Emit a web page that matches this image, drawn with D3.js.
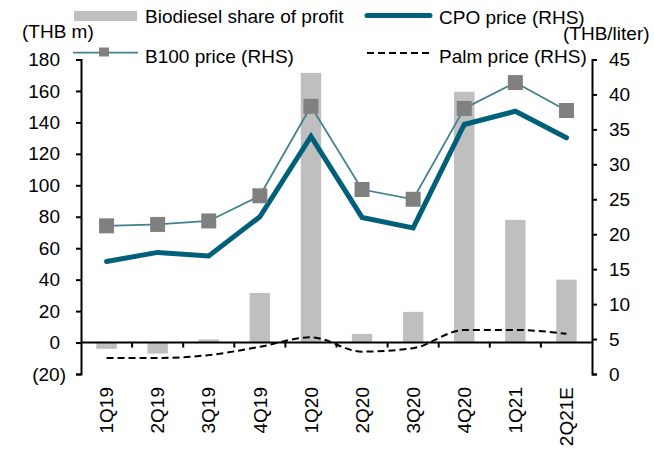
<!DOCTYPE html>
<html>
<head>
<meta charset="utf-8">
<script src="https://cdn.jsdelivr.net/npm/d3@7"></script>
<style>
  body { margin: 0; background: #fff; }
  svg { display: block; font-family: "Liberation Sans", Arial, sans-serif; }
  text { fill: #000; }
</style>
</head>
<body>
<div id="chart"></div>
<script>
// данные
const categories = ["1Q19", "2Q19", "3Q19", "4Q19", "1Q20", "2Q20", "3Q20", "4Q20", "1Q21", "2Q21E"];
const profitShare = [-4, -7, 2, 31.5, 171.5, 5.5, 19.5, 159.5, 78, 40];      // THB m, левая ось
const cpoPrice = [16.1, 17.4, 16.9, 22.5, 34.0, 22.4, 20.9, 35.7, 37.6, 33.8]; // THB/liter
const b100Price = [21.2, 21.4, 21.9, 25.5, 38.3, 26.4, 25.0, 38.0, 41.7, 37.7];
const palmPrice = [2.3, 2.3, 2.7, 3.9, 5.25, 3.2, 3.7, 6.3, 6.3, 5.75];
const leftTicks = d3.range(-20, 181, 20);
const rightTicks = d3.range(0, 46, 5);

const W = 654, H = 449;
const plot = { left: 81, right: 592, top: 59.5, bottom: 374 };

const svg = d3.select("#chart").append("svg")
  .attr("width", W)
  .attr("height", H);

// шкалы
const x = d3.scaleBand()
  .domain(categories)
  .range([plot.left, plot.right])
  .paddingInner(0.6)
  .paddingOuter(0.3);

const yL = d3.scaleLinear().domain([-20, 180]).range([plot.bottom, plot.top]);
const yR = d3.scaleLinear().domain([0, 45]).range([plot.bottom, plot.top]);

const cx = c => x(c) + x.bandwidth() / 2;
const step = x.step();

// столбцы
svg.append("g")
  .selectAll("rect")
  .data(categories)
  .join("rect")
  .attr("x", c => x(c))
  .attr("width", x.bandwidth())
  .attr("y", (c, i) => yL(Math.max(0, profitShare[i])))
  .attr("height", (c, i) => Math.abs(yL(profitShare[i]) - yL(0)))
  .attr("fill", "#bfbfbf");

// ось X (нулевая линия)
const y0 = yL(0);
svg.append("line")
  .attr("x1", plot.left).attr("x2", plot.right)
  .attr("y1", y0).attr("y2", y0)
  .attr("stroke", "#000").attr("stroke-width", 2);

svg.append("g")
  .selectAll("line")
  .data(categories.slice(1))
  .join("line")
  .attr("x1", c => x(c) - (step - x.bandwidth()) / 2)
  .attr("x2", c => x(c) - (step - x.bandwidth()) / 2)
  .attr("y1", y0).attr("y2", y0 + 5)
  .attr("stroke", "#000").attr("stroke-width", 2);

// подписи категорий (повёрнуты)
svg.append("g")
  .selectAll("text")
  .data(categories)
  .join("text")
  .attr("transform", c => `translate(${cx(c)},387) rotate(-90)`)
  .attr("text-anchor", "end")
  .attr("dy", "0.35em")
  .style("font-size", "19px")
  .text(c => c);

// левая ось
const leftAxis = d3.axisLeft(yL)
  .tickValues(leftTicks)
  .tickSize(5)
  .tickPadding(16)
  .tickFormat(d => d < 0 ? `(${-d})` : d);

const gL = svg.append("g")
  .attr("transform", `translate(${plot.left},0)`)
  .call(leftAxis);
gL.select(".domain").attr("stroke-width", 2);
gL.selectAll(".tick line").attr("stroke-width", 2);
gL.selectAll(".tick text")
  .style("font-size", "19px")
  .attr("dx", d => d < 0 ? 6 : 0);

// правая ось
const rightAxis = d3.axisRight(yR)
  .tickValues(rightTicks)
  .tickSize(5)
  .tickPadding(12);

const gR = svg.append("g")
  .attr("transform", `translate(${plot.right},0)`)
  .call(rightAxis);
gR.select(".domain").attr("stroke-width", 2);
gR.selectAll(".tick line").attr("stroke-width", 2);
gR.selectAll(".tick text").style("font-size", "19px");
gL.attr("font-family", null);
gR.attr("font-family", null);

// линии
const cpoColor = "#00607a", b100Color = "#41808f";

const lineR = d3.line()
  .x((d, i) => cx(categories[i]))
  .y(d => yR(d));

svg.append("path")
  .datum(cpoPrice)
  .attr("d", lineR)
  .attr("fill", "none")
  .attr("stroke", cpoColor)
  .attr("stroke-width", 5)
  .attr("stroke-linecap", "round");

svg.append("path")
  .datum(b100Price)
  .attr("d", lineR)
  .attr("fill", "none")
  .attr("stroke", b100Color)
  .attr("stroke-width", 1.75);

svg.append("g")
  .selectAll("rect")
  .data(b100Price)
  .join("rect")
  .attr("x", (d, i) => cx(categories[i]) - 7.5)
  .attr("y", d => yR(d) - 7.5)
  .attr("width", 15)
  .attr("height", 15)
  .attr("fill", "#808080");

// сглаженная пунктирная линия цены пальмы
const palmLine = d3.line()
  .x((d, i) => cx(categories[i]))
  .y(d => yR(d))
  .curve(d3.curveMonotoneX);

svg.append("path")
  .datum(palmPrice)
  .attr("d", palmLine)
  .attr("fill", "none")
  .attr("stroke", "#000")
  .attr("stroke-width", 2)
  .attr("stroke-dasharray", "7,4");

// подписи единиц
svg.append("text").attr("x", 22).attr("y", 38).style("font-size", "19px").text("(THB m)");
svg.append("text").attr("x", 563).attr("y", 40).style("font-size", "19px").text("(THB/liter)");

// легенда
const legend = svg.append("g").style("font-size", "19px");

legend.append("rect")
  .attr("x", 74).attr("y", 11).attr("width", 63).attr("height", 10)
  .attr("fill", "#bfbfbf");
legend.append("text").attr("x", 145).attr("y", 23).text("Biodiesel share of profit");

legend.append("line")
  .attr("x1", 367).attr("x2", 430).attr("y1", 15.5).attr("y2", 15.5)
  .attr("stroke", cpoColor).attr("stroke-width", 5).attr("stroke-linecap", "round");
legend.append("text").attr("x", 439).attr("y", 23.5).text("CPO price (RHS)");

legend.append("line")
  .attr("x1", 73).attr("x2", 138).attr("y1", 52.5).attr("y2", 52.5)
  .attr("stroke", b100Color).attr("stroke-width", 1.75);
legend.append("rect")
  .attr("x", 99).attr("y", 47.5).attr("width", 10).attr("height", 9)
  .attr("fill", "#808080");
legend.append("text").attr("x", 145).attr("y", 62.5).text("B100 price (RHS)");

legend.append("line")
  .attr("x1", 367).attr("x2", 432).attr("y1", 53).attr("y2", 53)
  .attr("stroke", "#000").attr("stroke-width", 2).attr("stroke-dasharray", "7,4");
legend.append("text").attr("x", 439).attr("y", 63).text("Palm price (RHS)");
</script>
</body>
</html>
